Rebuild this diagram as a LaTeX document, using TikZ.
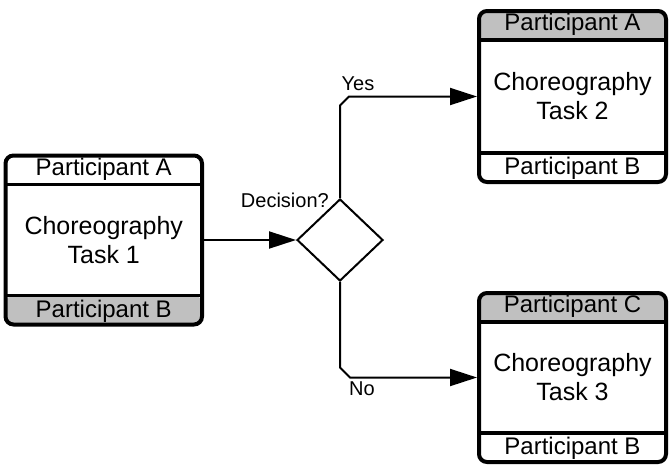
\documentclass[tikz,border=0pt]{standalone}
\usepackage{fontspec}
\setmainfont{Liberation Sans}
\usetikzlibrary{shapes.geometric, positioning, arrows.meta}

\definecolor{bandgray}{RGB}{192,192,192}

\tikzset{
  task/.style={draw, line width=4pt, rounded corners=8pt, align=center,
    inner sep=0pt, font=\fontsize{25}{29}\selectfont},
  bands/.style 2 args={path picture={
    \fill[#1] (path picture bounding box.north west) rectangle
      ([yshift=-29pt]path picture bounding box.north east);
    \fill[#2] (path picture bounding box.south west) rectangle
      ([yshift=29pt]path picture bounding box.south east);
    \draw[line width=3.5pt] ([yshift=-29pt]path picture bounding box.north west) --
      ([yshift=-29pt]path picture bounding box.north east);
    \draw[line width=3.5pt] ([yshift=29pt]path picture bounding box.south west) --
      ([yshift=29pt]path picture bounding box.south east);}},
  part/.style={font=\fontsize{24}{27}\selectfont, inner sep=0pt},
  gate/.style={diamond, draw, line width=2pt, minimum width=86pt,
    minimum height=82pt, inner sep=0pt},
  flow/.style={line width=2pt, -{Triangle[length=27pt,width=17pt]}},
  lbl/.style={font=\fontsize{20}{24}\selectfont, inner sep=0pt}
}

\begin{document}
\begin{tikzpicture}[x=1pt, y=-1pt]
    \useasboundingbox (0,0) rectangle (669,464);

    % choreography tasks
    \node[task, bands={white}{bandgray}, minimum width=196.5pt, minimum height=169pt]
        (t1) at (103.75,240) {Choreography\\Task 1};
    \node[task, bands={bandgray}{white}, minimum width=187pt, minimum height=171pt]
        (t2) at (572.5,96.5) {Choreography\\Task 2};
    \node[task, bands={bandgray}{white}, minimum width=187pt, minimum height=169pt]
        (t3) at (572.5,377.5) {Choreography\\Task 3};

    \node[part] (t1a) at ([yshift=-15.5pt]t1.north) {Participant A};
    \node[part] (t1b) at ([yshift=15.5pt]t1.south) {Participant B};
    \node[part] (t2a) at ([yshift=-15.5pt]t2.north) {Participant A};
    \node[part] (t2b) at ([yshift=15.5pt]t2.south) {Participant B};
    \node[part] (t3c) at ([yshift=-15.5pt]t3.north) {Participant C};
    \node[part] (t3b) at ([yshift=15.5pt]t3.south) {Participant B};

    % gateway
    \node[gate] (g) at (340,240) {};
    \node[lbl, anchor=east] (gq) at (329,200) {Decision?};

    \draw[flow] (t1) -- (g);
    \draw[flow] (g.north) -- ([yshift=-9pt]g.north |- t2.west)
        -- ([xshift=9pt]g.north |- t2.west) -- (t2.west);
    \draw[flow] (g.south) -- ([yshift=10pt]g.south |- t3.west)
        -- ([xshift=10pt]g.south |- t3.west) -- (t3.west);

    \node[lbl] (yes) at (358,84) {Yes};
    \node[lbl] (no) at (362,389) {No};
\end{tikzpicture}
\end{document}
